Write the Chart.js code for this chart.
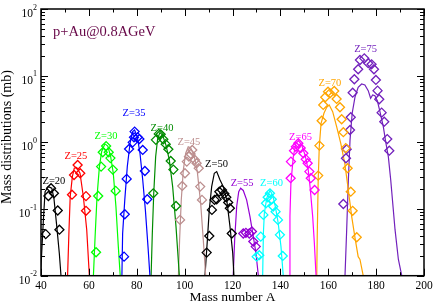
<!DOCTYPE html>
<html>
<head>
<meta charset="utf-8">
<script src="https://cdn.jsdelivr.net/npm/chart.js@4/dist/chart.umd.min.js"></script>
<style>
  body { margin: 0; background: #fff; }
</style>
</head>
<body>
<canvas id="massChart" width="435" height="303"></canvas>
<script>
// charges of the fragments
const charges = [20, 25, 30, 35, 40, 45, 50, 55, 60, 65, 70, 75];

// calculation (lines): mass number and cross section (mb)
const calcA20 = [39.8, 41, 41.7, 43.05, 44.5, 45.4, 46.6, 47.65, 48.35];
const calcS20 = [0.01, 0.069, 0.182, 0.217, 0.205, 0.145, 0.0545, 0.0217, 0.01];
const calcA25 = [51.1, 51.7, 52.2, 53.1, 53.9, 54.9, 56.3, 57.7, 59.1, 60.2];
const calcS25 = [0.01, 0.049, 0.153, 0.306, 0.41, 0.42, 0.344, 0.153, 0.049, 0.01];
const calcA30 = [61.9, 62.6, 63.4, 64.4, 65.35, 66.7, 67.9, 69.1, 70.2, 71.3, 72.3, 73.1];
const calcS30 = [0.01, 0.0385, 0.153, 0.433, 0.73, 0.95, 0.88, 0.61, 0.344, 0.109, 0.0273, 0.01];
const calcA35 = [73.8, 74.1, 75, 76.05, 77.2, 78.3, 79.1, 80.2, 81.35, 82.5, 83.6, 84.7, 85.5];
const calcS35 = [0.01, 0.043, 0.137, 0.433, 0.97, 1.45, 1.53, 1.22, 0.686, 0.273, 0.097, 0.0273, 0.01];
const calcA40 = [86, 86.5, 87.1, 87.9, 88.75, 89.7, 90.8, 92.2, 93.6, 95, 96.4, 97.8];
const calcS40 = [0.01, 0.043, 0.172, 0.61, 1.15, 1.4, 1.29, 0.91, 0.545, 0.217, 0.0545, 0.01];
const calcA45 = [97.4, 97.9, 98.6, 99.45, 100.45, 101.5, 102.5, 103.9, 105.3, 106.7, 107.8, 108.8];
const calcS45 = [0.01, 0.0344, 0.137, 0.385, 0.686, 0.86, 0.83, 0.647, 0.364, 0.122, 0.0344, 0.01];
const calcA50 = [108.5, 109.5, 110.3, 111.3, 112.4, 113.4, 114.8, 116.15, 117.6, 118.95, 120.1, 120.6];
const calcS50 = [0.01, 0.0344, 0.097, 0.217, 0.344, 0.364, 0.273, 0.217, 0.137, 0.0545, 0.0217, 0.01];
const calcA55 = [120.3, 120.9, 121.75, 122.6, 123.4, 124.5, 125.9, 127.3, 128.7, 129.8, 130.8];
const calcS55 = [0.01, 0.0344, 0.109, 0.182, 0.205, 0.19, 0.137, 0.077, 0.0385, 0.0217, 0.01];
const calcA60 = [132.6, 132.9, 133.3, 134.3, 135.65, 136.8, 137.9, 139.1, 140.25, 141.2];
const calcS60 = [0.01, 0.043, 0.0856, 0.145, 0.19, 0.161, 0.109, 0.0612, 0.0273, 0.01];
const calcA65 = [143.7, 144, 144.4, 145.4, 146.5, 147.6, 148.9, 150.3, 151.65, 152.4, 153.5, 154.2, 154.9];
const calcS65 = [0.01, 0.077, 0.243, 0.61, 0.97, 1.06, 0.91, 0.647, 0.385, 0.217, 0.077, 0.0307, 0.01];
const calcA70 = [155.2, 155.4, 155.8, 156.25, 157, 158.2, 159.35, 160.4, 161.85, 163.5, 165.2, 166.9, 168.2, 169.8, 171.2, 172.5, 173.25, 174.6];
const calcS70 = [0.01, 0.0385, 0.273, 0.86, 1.93, 2.73, 3.36, 3.64, 2.88, 1.72, 0.97, 0.486, 0.217, 0.077, 0.0365, 0.0193, 0.0175, 0.01];
const calcA75 = [167, 167.7, 168.4, 169.1, 170, 171.2, 172.5, 173.95, 175.3, 176.7, 177.7, 178.55, 179.5, 180.5, 181.6, 183, 184.1, 185.1, 186.1, 187.9, 189.3, 190.7];
const calcS75 = [0.01, 0.049, 0.273, 1.09, 2.73, 4.84, 6.7, 7.51, 7.26, 5.96, 4.58, 5.14, 5.0, 4.22, 2.88, 1.72, 0.97, 0.61, 0.273, 0.049, 0.0175, 0.01];

// measurement (diamonds)
const measA20 = [41.96, 43.1, 44.2, 45.4, 47, 47.7];
const measS20 = [0.042, 0.157, 0.205, 0.172, 0.095, 0.049];
const measA25 = [52.95, 53.8, 55.3, 56.4, 58.8, 58.8];
const measS25 = [0.164, 0.324, 0.458, 0.344, 0.156, 0.094];
const measA30 = [63, 63.9, 65.1, 65.8, 67.2, 68.3, 69, 70, 71.2];
const measS30 = [0.0225, 0.157, 0.433, 0.71, 0.88, 0.71, 0.58, 0.39, 0.187];
const measA35 = [74.7, 75, 75.8, 76.8, 78.3, 78.85, 79.1, 80.4, 81.1, 82.5, 83.4, 84.4];
const measS35 = [0.0193, 0.0836, 0.283, 0.797, 1.0, 1.19, 1.45, 1.19, 1.12, 0.77, 0.372, 0.14];
const measA40 = [86.9, 88, 89.2, 90, 91.1, 92.1, 93.2, 94.2, 95.3, 96.4];
const measS40 = [0.172, 1.09, 1.34, 1.32, 1.11, 0.94, 0.79, 0.526, 0.39, 0.111];
const measA45 = [98.1, 99, 100.15, 100.9, 101.8, 102.5, 103.2, 104.3, 105, 105.9, 106.5, 107.25];
const measS45 = [0.0687, 0.222, 0.344, 0.514, 0.61, 0.67, 0.77, 0.545, 0.486, 0.41, 0.217, 0.137];
const measA50 = [109.2, 110.3, 111.4, 112.5, 113.4, 114.5, 115.6, 116.6, 117.4, 118.2, 118.9, 119.7];
const measS50 = [0.0222, 0.0395, 0.097, 0.137, 0.14, 0.182, 0.193, 0.17, 0.15, 0.125, 0.103, 0.043];
const measA55 = [124.5, 125.6, 127, 128.1, 128.7, 129.7];
const measS55 = [0.043, 0.044, 0.043, 0.046, 0.0325, 0.0273];
const measA60 = [130.1, 131.2, 131.8, 132.9, 134, 134.7, 135.65, 136.4, 137, 138, 139, 139.8, 141];
const measS60 = [0.0193, 0.0203, 0.0385, 0.0817, 0.122, 0.15, 0.172, 0.14, 0.109, 0.0914, 0.0687, 0.041, 0.0198];
const measA65 = [144.3, 144.4, 145.7, 146.5, 147.5, 148.5, 149.6, 150.6, 151.4, 152.1, 152.7, 154.3];
const measS65 = [0.29, 0.514, 0.75, 0.86, 0.97, 0.82, 0.686, 0.56, 0.486, 0.364, 0.29, 0.193];
const measA70 = [155.8, 156.3, 157.25, 157.9, 158.75, 159.9, 160.7, 162.5, 163.5, 164.9, 165.6, 166.3, 167.3, 168.1, 169.4, 170.2, 171.9];
const measS70 = [0.317, 0.894, 2.11, 3.64, 4.74, 5.75, 5.44, 5.9, 4.48, 3.36, 2.22, 1.42, 0.82, 0.41, 0.182, 0.094, 0.0377];
const measA75 = [166.3, 167.4, 167.7, 169.1, 169.4, 170.2, 170.9, 172.5, 173.25, 175.05, 176.7, 178.1, 179.1, 179.9, 180.6, 181.3, 182.3, 183.4, 184.65, 185.5];
const measS75 = [0.119, 0.578, 0.79, 1.53, 2.38, 5.56, 8.83, 12.5, 17.2, 18.2, 15.4, 14.8, 12.5, 8.63, 5.96, 4.43, 2.79, 2.04, 1.12, 0.75];

// where each Z= label sits (A, mb)
const labelA = [45.4, 54.6, 67.15, 78.85, 90.55, 101.8, 113.3, 124, 136.3, 148.4, 160.7, 175.6];
const labelS = [0.264, 0.625, 1.25, 2.71, 1.61, 1.0, 0.475, 0.242, 0.242, 1.18, 7.64, 24.7];

// axes
const xTicks = [40, 60, 80, 100, 120, 140, 160, 180, 200];
const yTicks = [0.01, 0.1, 1, 10, 100];
const yExponents = ['-2', '-1', '0', '1', '2'];

const colors = ['#000000', '#ff0000', '#00ff00', '#0000ff', '#008b00', '#bc8f8f',
  '#000000', '#9400d3', '#00ffff', '#ff00ff', '#ffa500', '#7221bc'];

const calcA = [calcA20, calcA25, calcA30, calcA35, calcA40, calcA45, calcA50, calcA55, calcA60, calcA65, calcA70, calcA75];
const calcS = [calcS20, calcS25, calcS30, calcS35, calcS40, calcS45, calcS50, calcS55, calcS60, calcS65, calcS70, calcS75];
const measA = [measA20, measA25, measA30, measA35, measA40, measA45, measA50, measA55, measA60, measA65, measA70, measA75];
const measS = [measS20, measS25, measS30, measS35, measS40, measS45, measS50, measS55, measS60, measS65, measS70, measS75];

const pairs = (xs, ys) => xs.map((x, i) => ({ x: x, y: ys[i] }));

const datasets = [];
charges.forEach((z, i) => {
  datasets.push({
    type: 'scatter',
    label: 'Z=' + z + ' data',
    data: pairs(measA[i], measS[i]),
    pointStyle: 'rectRot',
    pointRadius: 4.5,
    pointBorderWidth: 1.3,
    borderColor: colors[i],
    backgroundColor: 'rgba(255,255,255,0)',
    order: 0
  });
  datasets.push({
    type: 'line',
    label: 'Z=' + z + ' calc',
    data: pairs(calcA[i], calcS[i]),
    borderColor: colors[i],
    borderWidth: 1.2,
    pointRadius: 0,
    tension: 0,
    fill: false,
    order: 1
  });
});

const serif = '"Liberation Serif", "DejaVu Serif", serif';

// axis frame, inward ticks, labels and texts drawn xmgrace style
const decorations = {
  id: 'decorations',
  afterDraw(chart) {
    const ctx = chart.ctx;
    const area = chart.chartArea;
    const xs = chart.scales.x;
    const ys = chart.scales.y;
    ctx.save();

    // Z= labels
    ctx.font = '10.5px ' + serif;
    ctx.textAlign = 'center';
    ctx.textBaseline = 'middle';
    charges.forEach((z, i) => {
      ctx.fillStyle = colors[i];
      ctx.fillText('Z=' + z, xs.getPixelForValue(labelA[i]), ys.getPixelForValue(labelS[i]));
    });

    // reaction label
    ctx.fillStyle = '#670748';
    ctx.font = '14.5px ' + serif;
    ctx.textAlign = 'left';
    ctx.textBaseline = 'alphabetic';
    ctx.fillText('p+Au@0.8AGeV', 53, 36);

    // frame
    ctx.strokeStyle = '#000';
    ctx.lineWidth = 1.5;
    ctx.strokeRect(area.left, area.top, area.right - area.left, area.bottom - area.top);

    // x ticks, every 10 with major every 20
    ctx.lineWidth = 1;
    ctx.beginPath();
    for (let v = 40; v <= 200; v += 10) {
      const px = Math.round(xs.getPixelForValue(v)) + 0.5;
      const len = v % 20 === 0 ? 7 : 3.5;
      ctx.moveTo(px, area.bottom); ctx.lineTo(px, area.bottom - len);
      ctx.moveTo(px, area.top); ctx.lineTo(px, area.top + len);
    }
    // y ticks, decades major and 2..9 minor
    for (let d = -2; d <= 2; d++) {
      for (let m = 1; m <= 9; m++) {
        const v = m * Math.pow(10, d);
        if (v > 100) break;
        const py = Math.round(ys.getPixelForValue(v)) + 0.5;
        const len = m === 1 ? 7 : 4;
        ctx.moveTo(area.left, py); ctx.lineTo(area.left + len, py);
        ctx.moveTo(area.right, py); ctx.lineTo(area.right - len, py);
      }
    }
    ctx.stroke();

    // x tick labels
    ctx.fillStyle = '#000';
    ctx.font = '11.5px ' + serif;
    ctx.textAlign = 'center';
    ctx.textBaseline = 'alphabetic';
    xTicks.forEach(v => ctx.fillText(String(v), xs.getPixelForValue(v), area.bottom + 13.5));

    // y tick labels 10^n
    yTicks.forEach((v, i) => {
      const py = ys.getPixelForValue(v);
      ctx.font = '8px ' + serif;
      ctx.textAlign = 'right';
      const exp = yExponents[i];
      ctx.fillText(exp, 37, py + 0.5);
      const ew = ctx.measureText(exp).width;
      ctx.font = '11.5px ' + serif;
      ctx.fillText('10', 37 - ew, py + 8);
    });

    // axis titles
    ctx.font = '13.5px ' + serif;
    ctx.textAlign = 'center';
    ctx.fillText('Mass number A', (area.left + area.right) / 2, 301);
    ctx.translate(11, 137);
    ctx.rotate(-Math.PI / 2);
    ctx.font = '14px ' + serif;
    ctx.fillText('Mass distributions (mb)', 0, 0);
    ctx.restore();
  }
};

new Chart(document.getElementById('massChart'), {
  data: { datasets: datasets },
  options: {
    responsive: false,
    animation: false,
    devicePixelRatio: 1,
    layout: { padding: { left: 0, top: 9, right: 11, bottom: 0 } },
    plugins: { legend: { display: false }, tooltip: { enabled: false } },
    scales: {
      x: {
        type: 'linear', min: 40, max: 200,
        ticks: { display: false }, grid: { display: false }, border: { display: false },
        afterFit(s) { s.height = 27.3; }
      },
      y: {
        type: 'logarithmic', min: 0.01, max: 100,
        ticks: { display: false }, grid: { display: false }, border: { display: false },
        afterFit(s) { s.width = 41; }
      }
    }
  },
  plugins: [decorations]
});
</script>
</body>
</html>
